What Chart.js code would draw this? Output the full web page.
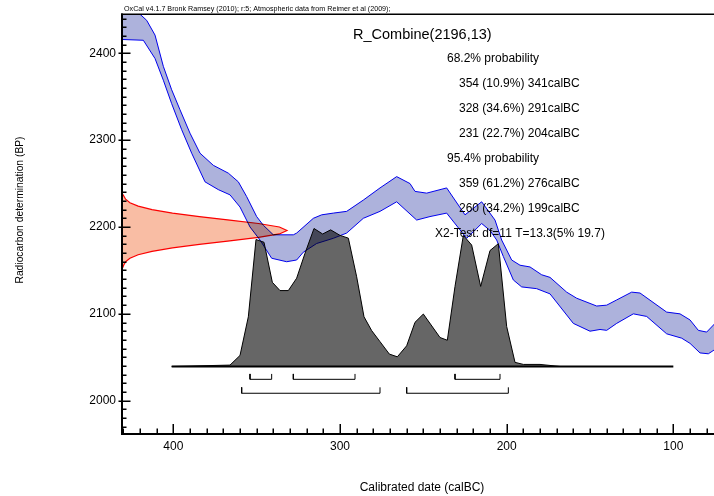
<!DOCTYPE html>
<html><head><meta charset="utf-8">
<script src="https://cdn.jsdelivr.net/npm/chart.js@4.4.0/dist/chart.umd.min.js"></script>
<style>html,body{margin:0;padding:0;background:#fff;overflow:hidden}canvas{display:block}</style>
</head><body>
<canvas id="c" width="714" height="496"></canvas>
<script>
// ---- data ----
const xTickLabels = [400, 300, 200, 100];
const yTickLabels = [2000, 2100, 2200, 2300, 2400];

// calibration curve band (calBC year, BP)
const bandUpperYear = [432,424,416,411,406,401,396,390,384,376,367,361,356,350,346,340,328,326,316,311,304,296,286,276,266,258,255,248,236,225,215,207,203,197,192,186,179,174,164,158,146,140,134,125,120,104,96,90,85,80,75];
const bandUpperBP   = [2461,2452,2438,2421,2385,2358,2335,2308,2285,2271,2262,2252,2235,2212,2202,2191,2191,2193,2210,2214,2216,2218,2231,2245,2258,2250,2241,2239,2245,2214,2229,2208,2185,2162,2156,2154,2145,2142,2125,2118,2109,2110,2116,2125,2124,2102,2100,2093,2081,2079,2089];
const bandLowerYear = [432,418,411,406,401,395,389,381,373,366,360,354,348,341,332,326,322,314,304,296,286,276,266,254,246,236,224,215,210,206,202,196,191,182,174,160,150,144,140,134,124,116,104,95,90,84,79,75];
const bandLowerBP   = [2416,2415,2394,2369,2342,2312,2285,2252,2243,2237,2223,2200,2185,2164,2160,2162,2171,2181,2187,2193,2210,2218,2229,2208,2212,2216,2187,2204,2196,2185,2166,2139,2131,2129,2123,2089,2080,2082,2081,2089,2100,2097,2077,2072,2066,2055,2054,2059];

// measurement R_Combine(2196,13): BP and relative probability
const measBP   = [2239,2236,2232,2228,2224,2220,2216,2212,2208,2204,2200,2196,2192,2188,2184,2180,2176,2172,2168,2164,2160,2156,2153];
const measProb = [0.004,0.01,0.022,0.048,0.098,0.182,0.306,0.469,0.653,0.827,0.954,1,0.954,0.827,0.653,0.469,0.306,0.182,0.098,0.048,0.022,0.01,0.004];

// calibrated probability distribution (calBC year, relative density)
const densYear = [401,366,360,355,350.4,345.6,340.6,336,331,326,321,315.6,310.4,305.6,300,295,290,285.6,281,276,270.4,265.6,260,255,250,240,235.6,231,226,221,215.6,210,205,200,195,190,180,168];
const densProb = [0,0.01,0.08,0.36,0.92,0.90,0.61,0.55,0.55,0.64,0.82,1.0,0.96,0.99,0.95,0.93,0.65,0.36,0.26,0.18,0.09,0.07,0.15,0.32,0.38,0.21,0.19,0.58,0.95,0.88,0.58,0.84,0.89,0.29,0.03,0.015,0.015,0];
const baselineYears = [401, 100];

// ranges
const range68 = [[354,341],[328,291],[231,204]];
const range95 = [[359,276],[260,199]];

const titleText = 'R_Combine(2196,13)';
const headerText = 'OxCal v4.1.7 Bronk Ramsey (2010); r:5; Atmospheric data from Reimer et al (2009);';
const summaryLines = [
  {t:'68.2% probability', indent:0},
  {t:'354 (10.9%) 341calBC', indent:1},
  {t:'328 (34.6%) 291calBC', indent:1},
  {t:'231 (22.7%) 204calBC', indent:1},
  {t:'95.4% probability', indent:0},
  {t:'359 (61.2%) 276calBC', indent:1},
  {t:'260 (34.2%) 199calBC', indent:1},
  {t:'X2-Test: df=11 T=13.3(5% 19.7)', indent:-1}
];
const xTitle = 'Calibrated date (calBC)';
const yTitle = 'Radiocarbon determination (BP)';

// ---- build datasets ----
const FONT = '"Liberation Sans", Arial, Helvetica, sans-serif';
Chart.defaults.font.family = FONT;

const bandPts = bandUpperYear.map((y,i)=>({x:y, y:bandUpperBP[i]}))
  .concat(bandLowerYear.map((y,i)=>({x:y, y:bandLowerBP[i]})).reverse());
const measPts = [{x:0,y:measBP[0]}].concat(measBP.map((b,i)=>({x:measProb[i], y:b})), [{x:0,y:measBP[measBP.length-1]}]);
const densPts = densYear.map((y,i)=>({x:y, y:densProb[i]}));
const basePts = baselineYears.map(y=>({x:y, y:0}));

const LV68 = {top:-0.054, bot:-0.093};
const LV95 = {top:-0.151, bot:-0.194};
function bracket(r, lv){
  return {type:'line', data:[{x:r[0],y:lv.top},{x:r[0],y:lv.bot},{x:r[1],y:lv.bot},{x:r[1],y:lv.top}],
    xAxisID:'x', yAxisID:'yd', borderColor:'#000', borderWidth:1, pointRadius:0, fill:false, tension:0, order:0};
}

const datasets = [
  {label:'measurement', data:measPts, xAxisID:'xp', yAxisID:'y', borderColor:'#ff0000', borderWidth:1.2,
   backgroundColor:'#f9bda4', fill:'shape', pointRadius:0, tension:0, order:5},
  {label:'density', data:densPts, xAxisID:'x', yAxisID:'yd', borderColor:'#000', borderWidth:1,
   backgroundColor:'#666666', fill:'shape', pointRadius:0, tension:0, order:4},
  {label:'calibration', data:bandPts, xAxisID:'x', yAxisID:'y', borderColor:'#0000ff', borderWidth:1,
   backgroundColor:'#adb2dc', fill:'shape', pointRadius:0, tension:0, order:3},
  {label:'baseline', data:basePts, xAxisID:'x', yAxisID:'yd', borderColor:'#000', borderWidth:2,
   fill:false, pointRadius:0, tension:0, order:1}
].concat(range68.map(r=>bracket(r,LV68)), range95.map(r=>bracket(r,LV95)));

const deco = {
  id:'deco',
  beforeDraw(chart){
    const c = chart.ctx; c.save(); c.fillStyle='#fff'; c.fillRect(0,0,chart.width,chart.height); c.restore();
  },
  beforeDatasetsDraw(chart){
    const c = chart.ctx, a = chart.chartArea;
    c.save();
    c.fillStyle = '#000'; c.textBaseline = 'middle'; c.textAlign = 'left';
    // header fitted to width
    c.font = '7px ' + FONT;
    const w = c.measureText(headerText).width;
    c.font = (7*267/w).toFixed(2) + 'px ' + FONT;
    c.fillText(headerText, a.left+2, 9);
    c.font = '14.5px ' + FONT;
    c.fillText(titleText, 353, 35);
    c.font = '12px ' + FONT;
    summaryLines.forEach((l,i)=>{
      const x = l.indent===1 ? 459 : (l.indent===0 ? 447 : 435);
      c.fillText(l.t, x, 58.5 + i*25);
    });
    c.textAlign = 'center';
    c.fillText(xTitle, (a.left+a.right)/2 + 4, 488);
    c.save();
    c.translate(20, 210); c.rotate(-Math.PI/2);
    c.font = '10.3px ' + FONT;
    c.fillText(yTitle, 0, 0);
    c.restore();
    c.restore();
    c.save();
    c.globalCompositeOperation = 'multiply';
  },
  afterDatasetsDraw(chart){
    const c = chart.ctx, a = chart.chartArea;
    c.restore();
    const xs = chart.scales.x, ys = chart.scales.y;
    c.save();
    c.strokeStyle = '#000';
    // top border
    c.lineWidth = 1.5;
    c.beginPath(); c.moveTo(a.left-1, a.top-0.75); c.lineTo(a.right, a.top-0.75); c.stroke();
    // axes
    c.lineWidth = 2;
    c.beginPath(); c.moveTo(a.left, a.top-1.5); c.lineTo(a.left, a.bottom+1); c.lineTo(a.right, a.bottom+1); c.stroke();
    // ticks
    c.lineWidth = 1.5;
    c.beginPath();
    for (let v = 80; v <= 430; v += 10) {
      const px = Math.round(xs.getPixelForValue(v)) + 0.25;
      const major = xTickLabels.includes(v);
      c.moveTo(px, a.bottom); c.lineTo(px, a.bottom - (major ? 9 : 4.5));
    }
    for (let v = 1970; v <= 2440; v += 10) {
      const py = Math.round(ys.getPixelForValue(v)) + 0.25;
      const major = yTickLabels.includes(v);
      c.moveTo(a.left - (major ? 3.5 : 0), py); c.lineTo(a.left + (major ? 8.5 : 4.5), py);
    }
    c.stroke();
    c.restore();
  }
};

new Chart(document.getElementById('c'), {
  type:'line',
  data:{datasets},
  options:{
    responsive:false, animation:false, devicePixelRatio:1,
    layout:{padding:{top:15, right:0, left:0, bottom:0}},
    plugins:{legend:{display:false}, tooltip:{enabled:false}},
    scales:{
      x:{type:'linear', reverse:true, min:75.6, max:430.8, position:'bottom',
         grid:{display:false, drawTicks:false}, border:{display:false},
         ticks:{padding:6, color:'#000', font:{size:12}, maxRotation:0, callback:v=>String(v)},
         afterBuildTicks:s=>{s.ticks = xTickLabels.map(v=>({value:v}));},
         afterFit:s=>{s.height = 63;}},
      y:{type:'linear', min:1962.8, max:2444.1, position:'left',
         grid:{display:false, drawTicks:false}, border:{display:false},
         ticks:{padding:6, color:'#000', font:{size:12}, callback:v=>String(v)},
         afterBuildTicks:s=>{s.ticks = yTickLabels.map(v=>({value:v}));},
         afterFit:s=>{s.width = 122;}},
      xp:{type:'linear', display:false, min:0, max:3.588},
      yd:{type:'linear', display:false, min:-0.482, max:2.547}
    }
  },
  plugins:[deco]
});
</script>
</body></html>
